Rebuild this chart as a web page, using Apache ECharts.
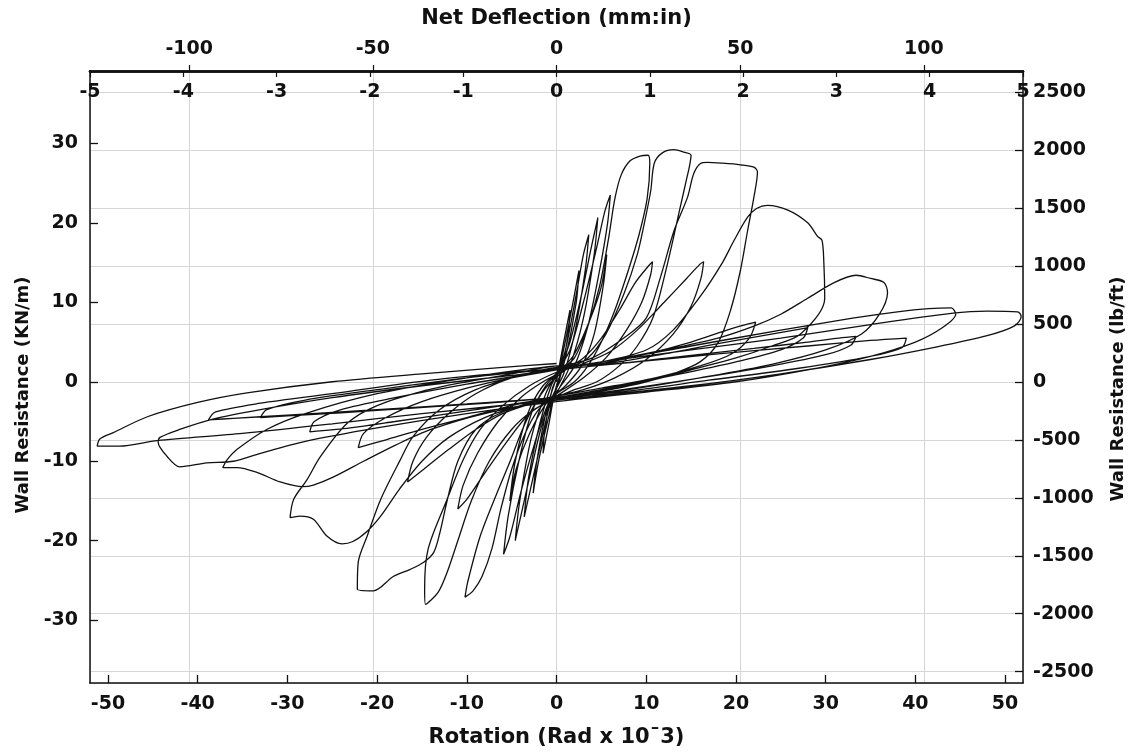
<!DOCTYPE html>
<html>
<head>
<meta charset="utf-8">
<script src="https://cdn.jsdelivr.net/npm/echarts@6/dist/echarts.min.js"></script>
<style>
  html, body { margin: 0; padding: 0; background: #ffffff; }
  #chart { width: 1135px; height: 753px; }
</style>
</head>
<body>
<div id="chart"></div>
<script>
// Rotation (Rad x 10^-3) vs Wall Resistance (KN/m), one array per load cycle
const loopA = [[0,0],[0.8,5],[1.5,9],[1.3,6],[0.5,1],[-0.3,-2],[-0.8,-5],[-1.5,-9],[-1.3,-6],[-0.5,-1],[0,0.5]];
const loopB = [[0.5,2.5],[1.5,8],[2.5,14],[2.2,10],[1,3],[0,-0.5],[-1,-5],[-2,-10],[-2.6,-14],[-2.2,-10],[-1,-3],[0,0.5]];
const loopC = [[1,4],[2.2,11],[3,16],[3.6,18.5],[3.2,14],[2,6],[0.8,1],[-0.5,-2],[-1.8,-8],[-2.8,-13],[-3.6,-17],[-3.1,-12],[-1.8,-5],[-0.6,-0.5],[0.3,1.5]];
const loopD = [[1.5,5],[2.8,11],[3.8,16.5],[4.6,20.6],[4.2,16],[3,8],[1.5,2],[0,-1.5],[-1.5,-5],[-2.8,-11],[-3.8,-16],[-4.6,-20],[-4.1,-15],[-2.8,-7],[-1.2,-1.5],[0.2,1.5]];
const loopE = [[1.5,4],[3,10],[4.5,17],[5.4,21.5],[6.0,23.5],[5.7,20],[4.8,14],[3.5,7],[2,2],[0.5,-0.5],[-1,-3],[-2.5,-8],[-4,-14],[-5.2,-19.5],[-5.9,-21.7],[-5.4,-17],[-4.2,-10],[-2.8,-4],[-1.2,-0.5],[0.5,1.5]];
const loopE2 = [[2,3.5],[3.8,8],[5,12],[5.6,16],[5.2,12],[4.2,6],[2.8,2],[1,-0.5],[-1,-2.5],[-3,-6.5],[-4.5,-11],[-5.2,-15],[-4.6,-10],[-3.2,-4],[-1.5,-0.5],[0.5,1.5]];
const loopF = [[2,3],[3.5,7],[4.8,12],[5.8,18],[6.5,23],[7.2,26],[8.2,27.8],[9.3,28.4],[10.2,28.5],[10.4,27.5],[10.1,23],[9.2,18.5],[8,14],[6.5,9],[5,5],[3.5,2],[2,0],[0,-1.5],[-2,-3.5],[-3.5,-6.5],[-5,-11],[-6.2,-16],[-7.2,-21],[-8.3,-24.5],[-9.3,-26.3],[-10.2,-27.1],[-9.9,-25.2],[-8.5,-19.4],[-6.6,-13.9],[-5.1,-9.8],[-3.8,-6],[-2.5,-3],[-1,-0.5],[1,1.5]];
const loopF2 = [[3,3],[5,5.5],[7,9],[8.8,12.5],[10.2,14.5],[10.7,15.1],[10.5,13.5],[9.5,10],[7.8,6.5],[5.5,3],[3,0.5],[0,-1.8],[-3,-4],[-5.5,-7.5],[-8,-11.5],[-10,-14.8],[-11,-16],[-10.4,-13],[-8.8,-9],[-6.5,-5],[-4,-2],[-1.5,0],[1,1.5]];
const loopG = [[3.5,3],[5.5,6],[7.5,11],[9,16],[9.8,20],[10.5,24],[10.9,27.5],[11.8,28.8],[13.1,29.2],[14.2,28.9],[15,28.5],[14.8,27],[14.5,25.5],[13.8,22],[12.4,15],[10.8,8.2],[9,4.5],[7,2],[4.5,0],[2,-1],[0,-2],[-2.5,-3.5],[-5,-6],[-7.5,-10],[-9.5,-15],[-11,-20],[-12.2,-24],[-13.2,-26.5],[-14.6,-28],[-14.7,-26],[-14.3,-21],[-12.2,-14.8],[-10.4,-9.8],[-8.5,-6],[-6,-3],[-3,-0.5],[0,1.2],[3,2.3]];
const loopG2 = [[6,3.8],[9,6.5],[12,10],[14.5,13],[16,14.8],[16.4,15.1],[16.1,13],[15,9.5],[13,6],[10,2.8],[6.5,0.5],[3,-1],[0,-1.8],[-3,-2.8],[-6,-4],[-9,-6],[-12,-8.5],[-14.8,-11],[-16.6,-12.6],[-16,-10],[-14.5,-7],[-12,-4],[-9,-1.5],[-5,0.5],[0,1.8]];
const loopH = [[4,3],[7.5,5.5],[10,8],[11.6,13.2],[13.1,19],[14.6,23.2],[15.3,26.2],[16.1,27.5],[16.8,27.6],[18.5,27.5],[20.5,27.3],[22,27],[22.4,26.4],[22,23.2],[21.3,19],[20.5,14],[19.4,9],[18,4.9],[16,2.5],[13,1],[10,0],[6,-1],[2,-1.8],[-2,-2.5],[-6,-3.8],[-9,-6],[-11,-10],[-12.2,-15],[-13,-19],[-13.7,-21.5],[-14.8,-22.7],[-16.3,-23.6],[-18.2,-24.5],[-20.4,-26.3],[-22.2,-26.1],[-22.1,-22.7],[-21.1,-19.4],[-19.6,-14.8],[-17.4,-9.8],[-16,-6.9],[-13,-3.5],[-9,-1],[-4,0.8],[0,1.8]];
const loopH2 = [[5,2.3],[10,3.5],[15,5],[19,6.5],[21.5,7.3],[22.2,7.5],[21.5,5.5],[19.5,3.5],[16,2],[11,0.5],[5,-0.8],[0,-1.8],[-5,-3],[-10,-4.5],[-15,-6],[-19,-7.3],[-22.1,-8.3],[-21.5,-6.5],[-19,-4.5],[-15,-2.5],[-10,-0.8],[-5,0.5],[0,1.5]];
const loopI = [[5,2.5],[10,4],[13,6.5],[16,10.7],[18.5,15],[19.8,17.8],[21.3,20.7],[22.3,21.8],[23.5,22.2],[25.8,21.6],[28,20],[29.1,18.3],[29.6,17.8],[29.8,15],[29.9,10.5],[27.2,6],[24,4.5],[20,3],[15,1.5],[10,0],[4,-1.3],[0,-2],[-4,-3],[-8,-4.5],[-12,-7],[-15,-10],[-17.5,-13.5],[-19.6,-16.9],[-21.1,-18.8],[-22.7,-20.1],[-23.9,-20.4],[-25.6,-19.4],[-27.1,-17.3],[-28.6,-16.9],[-29.7,-17.1],[-29.3,-14.8],[-27.8,-12.3],[-26.3,-9.4],[-23.3,-5.2],[-20,-3],[-15,-1.2],[-10,0],[-5,1],[0,2]];
const loopI2 = [[5,2.2],[12,3.5],[18,4.8],[23,5.8],[26.5,6.5],[28,6.8],[27.5,5.5],[25,4],[20,2.5],[13,0.8],[5,-1],[0,-2],[-6,-3],[-12,-4],[-18,-5],[-23,-5.8],[-27.5,-6.3],[-27,-5],[-24,-3.5],[-18,-2],[-10,-0.3],[-3,1],[0,1.7]];
const loopJ = [[5,2.5],[12,4],[18,5.5],[22,7],[25,8.5],[28,10.5],[31,12.5],[33.4,13.4],[35,13],[36.5,12.5],[36.9,11.2],[36,8.5],[34,6],[30,4],[24,2.2],[16,0.5],[8,-1],[0,-2.3],[-8,-4],[-14,-6],[-18,-8],[-21.5,-10],[-24.9,-12],[-27.1,-13],[-28.3,-13.2],[-30.8,-12.6],[-33.4,-11.4],[-35.6,-10.8],[-37.2,-10.8],[-36.7,-9.8],[-35.6,-8.5],[-32.3,-6],[-28,-4],[-20,-1.5],[-10,0.5],[0,2]];
const loopJ2 = [[6,2.2],[14,3.2],[22,4.2],[28,5],[31.5,5.5],[33.4,5.7],[32.8,4.6],[30,3.4],[24,2],[15,0.3],[6,-1.2],[0,-2],[-8,-2.7],[-16,-3.3],[-24,-3.9],[-30,-4.3],[-33,-4.5],[-32.3,-3.5],[-28,-2.3],[-20,-1],[-10,0.5],[0,1.7]];
const loopK = [[5,2.5],[15,4.5],[25,6.5],[33,8],[38,8.8],[41.5,9.2],[44,9.3],[44.5,8.5],[43,6.8],[40,5],[35,3.2],[28,1.5],[20,0],[10,-1.3],[0,-2.5],[-10,-4],[-20,-5.8],[-28,-7.5],[-33,-9],[-36,-10],[-39,-10.2],[-42,-10.7],[-43.4,-9.4],[-44.4,-7.6],[-44.2,-7],[-42,-6],[-38.3,-4.7],[-33,-3.5],[-25,-2],[-15,-0.5],[-5,0.8],[0,1.5]];
const loopK2 = [[8,2.4],[18,3.5],[28,4.5],[35,5.2],[39,5.5],[38.5,4.3],[35,3.2],[27,1.7],[17,0.2],[7,-1.3],[0,-2],[-10,-2.8],[-20,-3.5],[-30,-4.2],[-36,-4.6],[-38.8,-4.8],[-38,-3.8],[-33,-2.7],[-25,-1.5],[-14,0.2],[-4,1.3],[0,1.6]];
const loopL = [[5,2.5],[15,4],[25,5.5],[35,7.2],[44,8.6],[48,8.9],[51.4,8.8],[51.8,8.2],[51,7],[48,5.8],[42,4.3],[35,2.8],[25,1],[15,-0.5],[0,-2.3],[-15,-4],[-25,-5.3],[-35,-6.5],[-44.5,-7.4],[-48.7,-8.1],[-51.2,-8.1],[-50.9,-7.2],[-49.4,-6.4],[-45.6,-4.4],[-40,-2.6],[-34.5,-1.4],[-25,0],[-15,1],[-6,1.8],[0,2.3]];

const cycles = [loopA, loopB, loopC, loopD, loopE, loopE2, loopF, loopF2, loopG, loopG2, loopH, loopH2, loopI, loopI2, loopJ, loopJ2, loopK, loopK2, loopL];
const hysteresis = [].concat(...cycles);

const font = 'DejaVu Sans';
const plain = v => String(v);
const labelStyle = { fontFamily: font, fontWeight: 'bold', fontSize: 19, color: '#111', formatter: plain };
const nameStyle = { fontFamily: font, fontWeight: 'bold', fontSize: 21, color: '#111' };
const frameLine = { show: true, onZero: false, lineStyle: { color: '#111', width: 1.5 } };

const chart = echarts.init(document.getElementById('chart'), null, { renderer: 'canvas' });
chart.setOption({
  backgroundColor: '#ffffff',
  animation: false,
  grid: { left: 90, right: 112, top: 71, bottom: 69, containLabel: false },
  xAxis: [
    {
      type: 'value', position: 'bottom', min: -52, max: 52, splitNumber: 10,
      axisLine: frameLine,
      axisTick: { show: true, inside: true, length: 8, lineStyle: { color: '#111', width: 1.3 } },
      axisLabel: Object.assign({ margin: 12, showMinLabel: false, showMaxLabel: false }, labelStyle),
      splitLine: { show: false },
      name: 'Rotation (Rad x 10ˉ3)', nameLocation: 'middle', nameGap: 44, nameTextStyle: nameStyle
    },
    {
      type: 'value', position: 'top', min: -5, max: 5, interval: 1,
      axisLine: { show: true, onZero: false, lineStyle: { color: '#111', width: 2.5 } },
      axisTick: { show: true, inside: true, length: 6, lineStyle: { color: '#111', width: 1.2 } },
      axisLabel: Object.assign({ inside: true, margin: 12 }, labelStyle),
      splitLine: { show: false }
    },
    {
      type: 'value', position: 'top', min: -127, max: 127, splitNumber: 5,
      axisLine: { show: true, onZero: false, lineStyle: { color: '#111', width: 2.5 } },
      axisTick: { show: true, inside: false, length: 6, lineStyle: { color: '#111', width: 1.2 } },
      axisLabel: Object.assign({ margin: 12, showMinLabel: false, showMaxLabel: false }, labelStyle),
      splitLine: { show: true, lineStyle: { color: '#d6d6d6', width: 1 } },
      name: 'Net Deflection (mm:in)', nameLocation: 'middle', nameGap: 42, nameTextStyle: nameStyle
    }
  ],
  yAxis: [
    {
      type: 'value', position: 'left', min: -37.9, max: 39.1, splitNumber: 8,
      axisLine: frameLine,
      axisTick: { show: true, inside: true, length: 8, lineStyle: { color: '#111', width: 1.3 } },
      axisLabel: Object.assign({ margin: 12, showMinLabel: false, showMaxLabel: false }, labelStyle),
      splitLine: { show: false },
      name: 'Wall Resistance (KN/m)', nameLocation: 'middle', nameRotate: 90, nameGap: 58,
      nameTextStyle: Object.assign({ padding: [0, 36, 0, 0] }, nameStyle, { fontSize: 18 })
    },
    {
      type: 'value', position: 'right', min: -2597, max: 2679, splitNumber: 10,
      axisLine: frameLine,
      axisTick: { show: true, inside: true, length: 8, lineStyle: { color: '#111', width: 1.3 } },
      axisLabel: Object.assign({ margin: 10, showMinLabel: false, showMaxLabel: false }, labelStyle),
      splitLine: { show: true, lineStyle: { color: '#d6d6d6', width: 1 } },
      name: 'Wall Resistance (lb/ft)', nameLocation: 'middle', nameRotate: 90, nameGap: 86,
      nameTextStyle: Object.assign({ padding: [0, 24, 0, 0] }, nameStyle, { fontSize: 18 })
    }
  ],
  series: [
    {
      type: 'line', xAxisIndex: 0, yAxisIndex: 0,
      data: hysteresis,
      showSymbol: false, smooth: 0.3,
      lineStyle: { color: '#111', width: 1.3 },
      clip: true, silent: true
    }
  ]
});
</script>
</body>
</html>
